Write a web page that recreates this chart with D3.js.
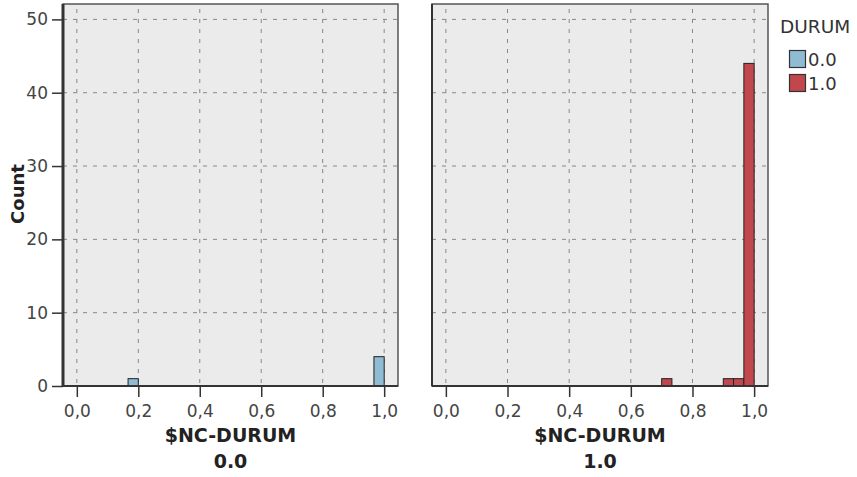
<!DOCTYPE html>
<html>
<head>
<meta charset="utf-8">
<script src="https://cdn.jsdelivr.net/npm/d3@7"></script>
<style>
  html, body { margin: 0; padding: 0; background: #fff; }
  svg { display: block; font-family: "DejaVu Sans", Verdana, sans-serif; }
</style>
</head>
<body>
<svg id="chart" width="857" height="477"></svg>
<script>
// ---- data ----
const panels = ["0.0", "1.0"];                 // $NC-DURUM panel labels
const legendKeys = ["0.0", "1.0"];             // DURUM categories
const binWidth = 1 / 30;
// bin start values and counts, per panel
const binStarts0 = [0.1667, 0.9667];
const counts0 = [1, 4];
const binStarts1 = [0.7, 0.9, 0.9333, 0.9667];
const counts1 = [1, 1, 1, 44];
const xTicks = [0, 0.2, 0.4, 0.6, 0.8, 1.0];
const xTickLabels = ["0,0", "0,2", "0,4", "0,6", "0,8", "1,0"];
const yTicks = [0, 10, 20, 30, 40, 50];

const colors = { "0.0": "#8fbbd3", "1.0": "#c1474d" };

const panelData = [
  { key: panels[0], starts: binStarts0, counts: counts0 },
  { key: panels[1], starts: binStarts1, counts: counts1 }
];

(function () {
const svg = d3.select("#chart");
const pTop = 4, pBottom = 386;
const panelX = [[63, 398], [432, 768]];
const FONT = "DejaVu Sans, Verdana, sans-serif";

const y = d3.scaleLinear().domain([0, 52.1]).range([pBottom, pTop]);

panelData.forEach((p, i) => {
  const [x0, x1] = panelX[i];
  const x = d3.scaleLinear().domain([-0.045, 1.045]).range([x0, x1]);
  const g = svg.append("g");

  // background
  g.append("rect").attr("x", x0).attr("y", pTop)
    .attr("width", x1 - x0).attr("height", pBottom - pTop)
    .attr("fill", "#ebebeb");

  // grid
  g.selectAll("line.vg").data(xTicks).join("line")
    .attr("x1", d => x(d)).attr("x2", d => x(d))
    .attr("y1", pTop + 5).attr("y2", pBottom)
    .attr("stroke", "#888").attr("stroke-width", 1)
    .attr("stroke-dasharray", "4,6");
  g.selectAll("line.hg").data(yTicks.filter(d => d > 0)).join("line")
    .attr("x1", x0).attr("x2", x1)
    .attr("y1", d => y(d)).attr("y2", d => y(d))
    .attr("stroke", "#888").attr("stroke-width", 1)
    .attr("stroke-dasharray", "4,6");

  // bars
  g.selectAll("rect.bar").data(p.starts.map((s, j) => ({ s, c: p.counts[j] }))).join("rect")
    .attr("x", d => x(d.s)).attr("width", d => x(d.s + binWidth) - x(d.s))
    .attr("y", d => y(d.c)).attr("height", d => y(0) - y(d.c))
    .attr("fill", colors[p.key]).attr("stroke", "#222").attr("stroke-width", 1);

  // frame
  g.append("rect").attr("x", x0).attr("y", pTop)
    .attr("width", x1 - x0).attr("height", pBottom - pTop)
    .attr("fill", "none").attr("stroke", "#555").attr("stroke-width", 1.5);
  g.append("line").attr("x1", x0).attr("x2", x0).attr("y1", pTop).attr("y2", pBottom)
    .attr("stroke", "#333").attr("stroke-width", i === 0 ? 3 : 2);
  g.append("line").attr("x1", x0).attr("x2", x1).attr("y1", pBottom).attr("y2", pBottom)
    .attr("stroke", "#333").attr("stroke-width", 2);

  // x axis
  const xAxis = d3.axisBottom(x).tickValues(xTicks)
    .tickFormat((d, k) => xTickLabels[k]).tickSize(11).tickPadding(8);
  const xa = g.append("g").attr("transform", `translate(0,${pBottom})`).call(xAxis);
  xa.select(".domain").remove();
  xa.selectAll(".tick line").attr("stroke", "#333").attr("stroke-width", 1.5);
  xa.selectAll(".tick text").attr("fill", "#444").attr("font-size", 17)
    .attr("font-family", FONT);

  // titles
  const cx = (x(0) + x(1)) / 2;
  g.append("text").attr("x", cx).attr("y", 442).attr("text-anchor", "middle")
    .attr("font-size", 19).attr("font-weight", "bold").attr("fill", "#222")
    .text("$NC-DURUM");
  g.append("text").attr("x", cx).attr("y", 468).attr("text-anchor", "middle")
    .attr("font-size", 19).attr("font-weight", "bold").attr("fill", "#222")
    .text(p.key);

  // y axis (left panel only)
  if (i === 0) {
    const yAxis = d3.axisLeft(y).tickValues(yTicks).tickSize(11).tickPadding(4);
    const ya = g.append("g").attr("transform", `translate(${x0},0)`).call(yAxis);
    ya.select(".domain").remove();
    ya.selectAll(".tick line").attr("stroke", "#333").attr("stroke-width", 1.5);
    ya.selectAll(".tick text").attr("fill", "#444").attr("font-size", 17)
      .attr("font-family", FONT);
    g.append("text").attr("transform", `translate(24,194) rotate(-90)`)
      .attr("text-anchor", "middle").attr("font-size", 18).attr("font-weight", "bold")
      .attr("fill", "#222").text("Count");
  }
});

// legend
const lg = svg.append("g");
lg.append("text").attr("x", 780).attr("y", 33).attr("font-size", 18.5)
  .attr("fill", "#333").text("DURUM");
legendKeys.forEach((k, j) => {
  lg.append("rect").attr("x", 789.5).attr("y", 50.5 + j * 24)
    .attr("width", 16).attr("height", 17)
    .attr("fill", colors[k]).attr("stroke", "#333").attr("stroke-width", 1.2);
  lg.append("text").attr("x", 808).attr("y", 66 + j * 24).attr("font-size", 18)
    .attr("fill", "#333").text(k);
});
})();
</script>
</body>
</html>
